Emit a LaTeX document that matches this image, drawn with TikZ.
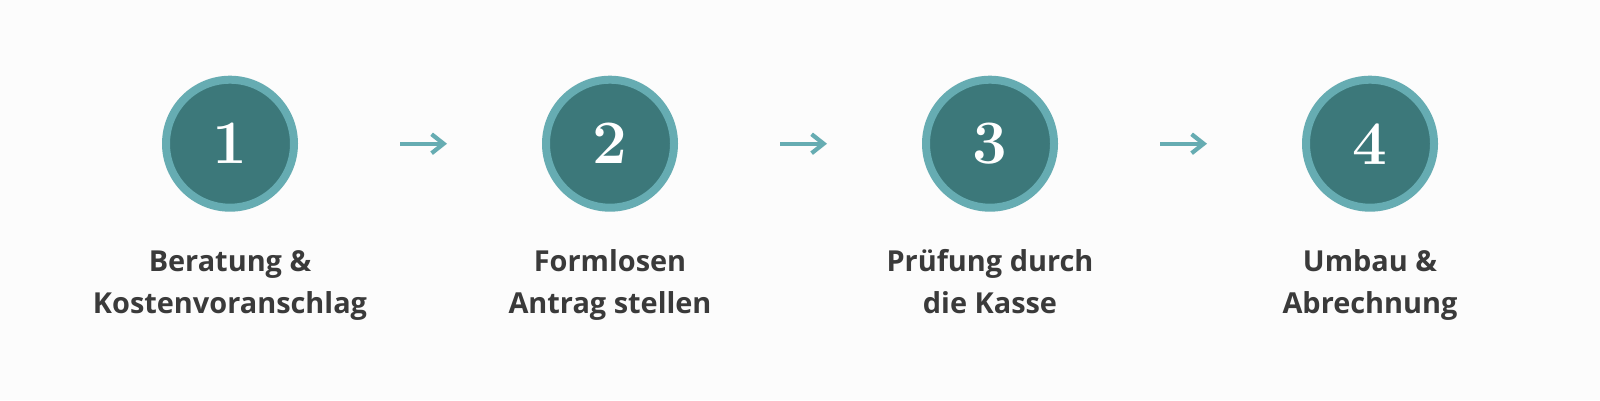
\documentclass[tikz,border=0pt]{standalone}
\usepackage{fontspec}
\setmainfont{Open Sans}
\usetikzlibrary{arrows.meta}
\definecolor{ringc}{HTML}{66ACB2}
\definecolor{innerc}{HTML}{3C787A}
\definecolor{bgc}{HTML}{FCFCFC}
\definecolor{textc}{HTML}{3A3A3A}
\tikzset{
  stepcircle/.style={circle, fill=innerc, draw=ringc, line width=8bp, minimum size=128bp, inner sep=0pt,
    text=white, font={\fontspec{Latin Modern Roman}\bfseries\fontsize{62}{62}\selectfont}},
  steplabel/.style={anchor=base, align=center, text=textc, inner sep=0pt,
    font={\bfseries\fontsize{29}{41.5}\selectfont}},
  flow/.style={draw=ringc, line width=3.8bp, -{Straight Barb[length=12bp, width=19bp, line width=4.2bp]}}
}
\begin{document}
\begin{tikzpicture}[x=1bp, y=-1bp]
  \fill[bgc] (0,0) rectangle (1600,400);
  \useasboundingbox (0,0) rectangle (1600,400);
  \node[stepcircle] (c1) at (230,143.7) {1};
  \node[stepcircle] (c2) at (610,143.7) {2};
  \node[stepcircle] (c3) at (990,143.7) {3};
  \node[stepcircle] (c4) at (1370,143.7) {4};
  \node[steplabel] (l1) at (230,313.2) {Beratung \&\\Kostenvoranschlag};
  \node[steplabel] (l2) at (610,313.2) {Formlosen\\Antrag stellen};
  \node[steplabel] (l3) at (990,313.2) {Prüfung durch\\die Kasse};
  \node[steplabel] (l4) at (1370,313.2) {Umbau \&\\Abrechnung};
  \draw[flow, shorten <=102bp, shorten >=95bp] (c1.east) -- (c2.west);
  \draw[flow, shorten <=102bp, shorten >=95bp] (c2.east) -- (c3.west);
  \draw[flow, shorten <=102bp, shorten >=95bp] (c3.east) -- (c4.west);
\end{tikzpicture}
\end{document}
